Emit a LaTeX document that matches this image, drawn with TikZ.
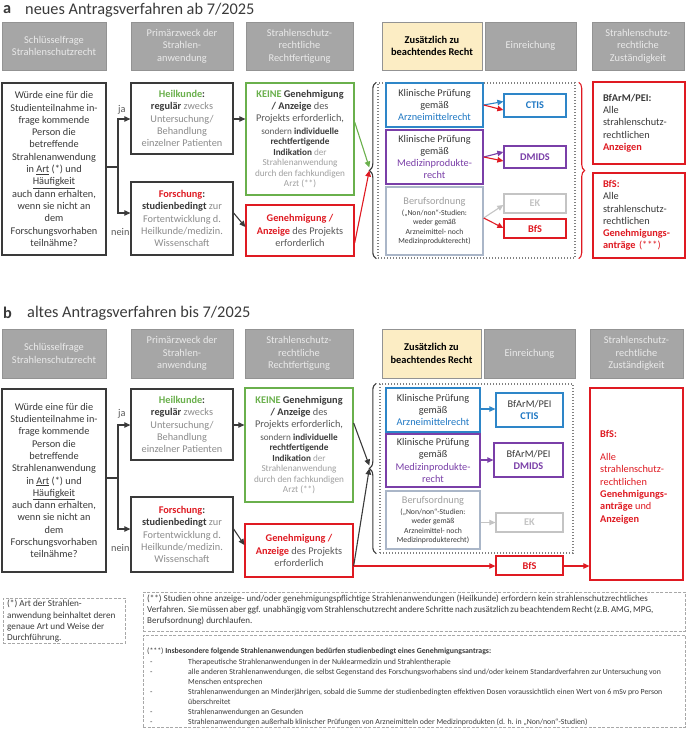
\documentclass[tikz,border=0pt]{standalone}
\usepackage{fontspec}
\setmainfont{Carlito}
\usetikzlibrary{arrows.meta,decorations.pathreplacing}

\definecolor{txt}{HTML}{3A3A3A}
\definecolor{dtxt}{HTML}{595959}
\definecolor{gtxt}{HTML}{8C8C8C}
\definecolor{lgt}{HTML}{A0A0A0}
\definecolor{hdrfill}{HTML}{A6A6A6}
\definecolor{hdrline}{HTML}{939393}
\definecolor{hdrtext}{HTML}{EAEAEA}
\definecolor{ylw}{HTML}{FCEDC4}
\definecolor{grn}{HTML}{6AB04C}
\definecolor{rd}{HTML}{DF1A22}
\definecolor{bl}{HTML}{2E86C8}
\definecolor{blt}{HTML}{1F78C4}
\definecolor{pur}{HTML}{7A3FA8}
\definecolor{bgray}{HTML}{AAB6C8}
\definecolor{lgray}{HTML}{C4C4C4}
\definecolor{dots}{HTML}{808080}
\definecolor{fnline}{HTML}{A8A8A8}

\newcommand\fsz[2]{\fontsize{#1}{#2}\selectfont}
% box from corner (x1,y1) to (x2,y2), y counted downwards
\newcommand\bx[7]{\node[#1, minimum width={(#5)-(#3)}, minimum height={(#6)-(#4)}] (#2) at ({((#3)+(#5))/2},{((#4)+(#6))/2}) {#7};}
\newcommand\fnitem{\hspace*{3pt}\makebox[38pt][l]{-}}
\newcommand\fncont{\hspace*{41pt}}
\newcommand\smallline[1]{{\fsz{9.2}{10.7}#1}}
\newcommand\tinyline[1]{{\fsz{7.7}{9.5}#1}}
\newsavebox\firstnote

\begin{document}
\begin{tikzpicture}[x=1pt,y=-1pt,
  hdrbox/.style={draw=hdrline, fill=hdrfill, text=hdrtext, line width=0.8pt, align=center, inner sep=0pt, font=\fsz{10.4}{12.5}},
  ylwbox/.style={hdrbox, fill=ylw, text=black},
  edgebox/.style={draw=#1, line width=1.3pt, fill=white, align=center, inner sep=0pt, text=txt, font=\fsz{10.3}{12.3}},
  tagbox/.style={edgebox=#1, font=\fsz{10.3}{12}\bfseries},
  dotbox/.style={draw=dots, line width=1.4pt, dash pattern=on 1.4pt off 1.6pt},
  fnbox/.style={draw=fnline, line width=0.8pt, dash pattern=on 3pt off 1.5pt, inner sep=0pt, anchor=north west},
  fntext/.style={anchor=north west, inner sep=0pt, align=left, text=txt},
  link/.style={line width=1.1pt, -{Triangle[length=6pt,width=5.5pt]}},
  curly/.style={decorate, decoration={brace, amplitude=7pt}, line width=1.1pt},
  sidetag/.style={font=\fsz{10.3}{12}, text=dtxt, inner sep=0pt, anchor=west},
  headline/.style={font=\fsz{16.3}{19}, text=txt, inner sep=0pt, anchor=west},
]
\useasboundingbox (0,0) rectangle (686,731);

%================ a: new procedure =================
\node[headline] (ttlAa) at (3,10) {\textbf{a}};
\node[headline] (ttlAt) at (25,10) {neues Antragsverfahren ab 7/2025};

\bx{hdrbox}{hA1}{2}{22}{106}{70}{Schlüsselfrage\\Strahlenschutzrecht}
\bx{hdrbox}{hA2}{131}{22}{233}{70}{Primärzweck der\\Strahlen-\\anwendung}
\bx{hdrbox}{hA3}{246}{22}{353}{70}{Strahlenschutz-\\rechtliche\\Rechtfertigung}
\bx{ylwbox}{hA4}{382}{22}{482}{70}{\textbf{Zusätzlich zu}\\\textbf{beachtendes Recht}}
\bx{hdrbox}{hA5}{485}{22}{576}{70}{Einreichung}
\bx{hdrbox}{hA6}{592}{22}{684}{70}{Strahlenschutz-\\rechtliche\\Zuständigkeit}

\bx{edgebox=txt}{qA}{2}{83}{106}{255}{Würde eine für die\\Studienteilnahme in-\\frage kommende\\Person die\\betreffende\\Strahlenanwendung\\in \underline{Art} (*) und\\\underline{Häufigkeit}\\auch dann erhalten,\\wenn sie nicht an\\dem\\Forschungsvorhaben\\teilnähme?}

\bx{edgebox=txt}{heilA}{131}{83}{233}{154}{\textcolor{grn}{\textbf{Heilkunde}}\textbf{:}\\\textbf{regulär} \textcolor{gtxt}{zwecks}\\\textcolor{gtxt}{Untersuchung/}\\\textcolor{gtxt}{Behandlung}\\\textcolor{gtxt}{einzelner Patienten}}
\bx{edgebox=txt}{forsA}{131}{182}{233}{255}{\textcolor{rd}{\textbf{Forschung}}\textbf{:}\\\textbf{studienbedingt} \textcolor{gtxt}{zur}\\\textcolor{gtxt}{Fortentwicklung d.}\\\textcolor{gtxt}{Heilkunde/medizin.}\\\textcolor{gtxt}{Wissenschaft}}

\bx{edgebox=grn}{keineA}{246}{83}{354}{195}{\textcolor{grn}{\textbf{KEINE}} \textbf{Genehmigung}\\\textbf{/ Anzeige} \textcolor{dtxt}{des}\\\textcolor{dtxt}{Projekts erforderlich,}\\\smallline{\textcolor{dtxt}{sondern} \textbf{individuelle}}\\[-1.8pt]\smallline{\textbf{rechtfertigende}}\\[-1.8pt]\smallline{\textbf{Indikation} \textcolor{lgt}{der}}\\[-1.8pt]\smallline{\textcolor{lgt}{Strahlenanwendung}}\\[-1.8pt]\smallline{\textcolor{lgt}{durch den fachkundigen}}\\[-1.8pt]\smallline{\textcolor{lgt}{Arzt (**)}}}
\bx{edgebox=rd}{redA}{246}{205}{354}{256}{\textcolor{rd}{\textbf{Genehmigung /}}\\\textcolor{rd}{\textbf{Anzeige}} \textcolor{dtxt}{des Projekts}\\\textcolor{dtxt}{erforderlich}}

\bx{dotbox}{zoneA}{378}{83}{575}{258}{}
\bx{edgebox=bl}{arzA}{386}{83}{483}{127}{Klinische Prüfung\\gemäß\\\textcolor{blt}{Arzneimittelrecht}}
\bx{edgebox=pur}{medA}{386}{130}{483}{184}{Klinische Prüfung\\gemäß\\\textcolor{pur}{Medizinprodukte-}\\\textcolor{pur}{recht}}
\bx{edgebox=bgray}{berA}{386}{187}{483}{255}{\textcolor{lgt}{Berufsordnung}\\[-1pt]\tinyline{(„Non/non“-Studien:}\\[-3pt]\tinyline{weder gemäß}\\[-3pt]\tinyline{Arzneimittel- noch}\\[-3pt]\tinyline{Medizinprodukterecht)}}

\bx{tagbox=bl}{ctisA}{504}{94}{566}{117}{\textcolor{blt}{CTIS}}
\bx{tagbox=pur}{dmidsA}{504}{146}{566}{168}{\textcolor{pur}{DMIDS}}
\bx{tagbox=lgray}{ekA}{504}{194}{566}{213}{\textcolor{lgray}{EK}}
\bx{tagbox=rd}{bfsA}{504}{219}{566}{238}{\textcolor{rd}{BfS}}

\bx{edgebox=rd, align=left, text width=72pt}{bfarmA}{593}{82}{685}{164}{\textbf{BfArM/PEI:}\\Alle\\strahlenschutz-\\rechtlichen\\\textcolor{rd}{\textbf{Anzeigen}}}
\bx{edgebox=rd, align=left, text width=72pt}{bfsbigA}{593}{173}{685}{258}{\textcolor{rd}{\textbf{BfS:}}\\Alle\\strahlenschutz-\\rechtlichen\\\textcolor{rd}{\textbf{Genehmigungs-}}\\\textcolor{rd}{\textbf{anträge} (***)}}

% connectors a
\coordinate (splitA) at (118,167);
\draw[link, txt] (qA.east |- splitA) -- (splitA) |- (heilA.west |- 0,119);
\draw[link, txt] (splitA) |- (forsA.west |- 0,213);
\node[sidetag] (jaA) at (118,110) {ja};
\node[sidetag] (neinA) at (111,232) {nein};
\draw[link, txt] (heilA.east |- 0,119) -- (keineA.west |- 0,119);
\draw[link, txt] (forsA.east |- 0,213) -- (redA.west |- 0,227);

\coordinate (tipA) at ([xshift=-8pt]zoneA.west);
\draw[curly, txt] ([xshift=-1pt]zoneA.south west) -- ([xshift=-1pt]zoneA.north west);
\draw[link, grn] (keineA.east |- 0,122) -- ([yshift=3pt]tipA);
\draw[link, rd] (redA.east |- 0,243) -- (tipA);
\draw[curly, rd, decoration={brace, amplitude=6pt}] ([xshift=3pt]zoneA.north east) -- ([xshift=3pt]zoneA.south east);

\draw[link, bl] (arzA.east |- 0,105) -- (ctisA.west |- 0,101.5);
\draw[link, rd] (arzA.east |- 0,105) -- (ctisA.west |- 0,110);
\draw[link, pur] (medA.east |- 0,157) -- (dmidsA.west |- 0,152);
\draw[link, rd] (medA.east |- 0,157) -- (dmidsA.west |- 0,161);
\draw[link, lgray] (berA.east |- 0,218) -- (ekA.west |- 0,205);
\draw[link, rd] (berA.east |- 0,218) -- (bfsA.west |- 0,228);

%================ b: old procedure =================
\node[headline] (ttlBb) at (3,313) {\textbf{b}};
\node[headline] (ttlBt) at (27,313) {altes Antragsverfahren bis 7/2025};

\bx{hdrbox}{hB1}{2}{329}{106}{378}{Schlüsselfrage\\Strahlenschutzrecht}
\bx{hdrbox}{hB2}{131}{329}{233}{378}{Primärzweck der\\Strahlen-\\anwendung}
\bx{hdrbox}{hB3}{245}{329}{353}{378}{Strahlenschutz-\\rechtliche\\Rechtfertigung}
\bx{ylwbox}{hB4}{382}{329}{481}{378}{\textbf{Zusätzlich zu}\\\textbf{beachtendes Recht}}
\bx{hdrbox}{hB5}{484}{329}{575}{378}{Einreichung}
\bx{hdrbox}{hB6}{590}{329}{683}{378}{Strahlenschutz-\\rechtliche\\Zuständigkeit}

\bx{edgebox=txt}{qB}{2}{389}{106}{572}{Würde eine für die\\Studienteilnahme in-\\frage kommende\\Person die\\betreffende\\Strahlenanwendung\\in \underline{Art} (*) und\\\underline{Häufigkeit}\\auch dann erhalten,\\wenn sie nicht an\\dem\\Forschungsvorhaben\\teilnähme?}

\bx{edgebox=txt}{heilB}{131}{389}{233}{460}{\textcolor{grn}{\textbf{Heilkunde}}\textbf{:}\\\textbf{regulär} \textcolor{gtxt}{zwecks}\\\textcolor{gtxt}{Untersuchung/}\\\textcolor{gtxt}{Behandlung}\\\textcolor{gtxt}{einzelner Patienten}}
\bx{edgebox=txt}{forsB}{131}{497}{233}{572}{\textcolor{rd}{\textbf{Forschung}}\textbf{:}\\\textbf{studienbedingt} \textcolor{gtxt}{zur}\\\textcolor{gtxt}{Fortentwicklung d.}\\\textcolor{gtxt}{Heilkunde/medizin.}\\\textcolor{gtxt}{Wissenschaft}}

\bx{edgebox=grn}{keineB}{245}{388}{353}{502}{\textcolor{grn}{\textbf{KEINE}} \textbf{Genehmigung}\\\textbf{/ Anzeige} \textcolor{dtxt}{des}\\\textcolor{dtxt}{Projekts erforderlich,}\\\smallline{\textcolor{dtxt}{sondern} \textbf{individuelle}}\\[-1.8pt]\smallline{\textbf{rechtfertigende}}\\[-1.8pt]\smallline{\textbf{Indikation} \textcolor{lgt}{der}}\\[-1.8pt]\smallline{\textcolor{lgt}{Strahlenanwendung}}\\[-1.8pt]\smallline{\textcolor{lgt}{durch den fachkundigen}}\\[-1.8pt]\smallline{\textcolor{lgt}{Arzt (**)}}}
\bx{edgebox=rd}{redB}{245}{524}{353}{577}{\textcolor{rd}{\textbf{Genehmigung /}}\\\textcolor{rd}{\textbf{Anzeige}} \textcolor{dtxt}{des Projekts}\\\textcolor{dtxt}{erforderlich}}

\bx{dotbox}{zoneB}{380}{384}{573}{553}{}
\bx{edgebox=bl}{arzB}{386}{388}{480}{432}{Klinische Prüfung\\gemäß\\\textcolor{blt}{Arzneimittelrecht}}
\bx{edgebox=pur}{medB}{386}{434}{480}{487}{Klinische Prüfung\\gemäß\\\textcolor{pur}{Medizinprodukte-}\\\textcolor{pur}{recht}}
\bx{edgebox=bgray}{berB}{386}{491}{480}{549}{\textcolor{lgt}{Berufsordnung}\\[-1pt]\tinyline{(„Non/non“-Studien:}\\[-3pt]\tinyline{weder gemäß}\\[-3pt]\tinyline{Arzneimittel- noch}\\[-3pt]\tinyline{Medizinprodukterecht)}}

\bx{edgebox=bl}{ctisB}{496}{393}{563}{427}{BfArM/PEI\\\textcolor{blt}{\textbf{CTIS}}}
\bx{edgebox=pur}{dmidsB}{494}{443}{563}{477}{BfArM/PEI\\\textcolor{pur}{\textbf{DMIDS}}}
\bx{tagbox=lgray}{ekB}{496}{513}{563}{532}{\textcolor{lgray}{EK}}
\bx{tagbox=rd}{bfsB}{496}{556}{563}{575}{\textcolor{rd}{BfS}}

\bx{edgebox=rd}{bfsbigB}{590}{388}{683}{580}{}
\node[anchor=north west, inner sep=0pt, align=left, text=rd, font=\fsz{10.3}{12.3}] (bfsbigBtext) at (600,430) {\textbf{BfS:}\\[11pt]Alle\\strahlenschutz-\\rechtlichen\\\textbf{Genehmigungs-}\\\textbf{anträge} und\\\textbf{Anzeigen}};

% connectors b
\coordinate (splitB) at (118,478);
\draw[link, txt] (qB.east |- splitB) -- (splitB) |- (heilB.west |- 0,425);
\draw[link, txt] (splitB) |- (forsB.west |- 0,529);
\node[sidetag] (jaB) at (118,414) {ja};
\node[sidetag] (neinB) at (111,548) {nein};
\draw[link, txt] (heilB.east |- 0,425) -- (keineB.west |- 0,425);
\draw[link, txt] (forsB.east |- 0,529) -- (redB.west |- 0,545);

\coordinate (tipB) at ([xshift=-10pt]zoneB.west);
\draw[curly, txt] ([xshift=-3pt]zoneB.south west) -- ([xshift=-3pt]zoneB.north west);
\draw[link, txt] (keineB.east |- 0,423) -- ([yshift=3pt]tipB);
\draw[link, txt] (redB.east |- 0,566) -- (tipB);

\draw[link, bl] (arzB.east |- 0,409) -- (ctisB.west |- 0,409);
\draw[link, pur] (medB.east |- 0,460) -- (dmidsB.west |- 0,460);
\draw[link, lgray] (berB.east |- 0,522.5) -- (ekB.west |- 0,522.5);
\draw[link, rd] (redB.east |- 0,566) -- (bfsB.west |- 0,566);
\draw[link, rd] (bfsB.east |- 0,566) -- (bfsbigB.west |- 0,566);

%================ notes =================
\node[fnbox, minimum width=122, minimum height=45] (fnAbox) at (3,598) {};
\node[fntext, font=\fsz{9.2}{11.3}] (fnAtext) at (7,600) {(*) Art der Strahlen-\\anwendung beinhaltet deren\\genaue Art und Weise der\\Durchführung.};

\node[fnbox, minimum width=542, minimum height=39] (fnBbox) at (143,592) {};
\node[fntext, font=\fsz{9}{11}] (fnBtext) at (147,595) {\sbox\firstnote{(**) Studien ohne anzeige- und/oder genehmigungspflichtige Strahlenanwendungen (Heilkunde) erfordern kein strahlenschutzrechtliches}\usebox\firstnote\\\makebox[\wd\firstnote][s]{Verfahren. Sie müssen aber ggf. unabhängig vom Strahlenschutzrecht andere Schritte nach zusätzlich zu beachtendem Recht (z.B. AMG, MPG,}\\Berufsordnung) durchlaufen.};

\node[fnbox, minimum width=542, minimum height=92] (fnCbox) at (143,635) {};
\node[fntext, font=\fsz{7.8}{10}] (fnCtext) at (147,648) {(***) \textbf{Insbesondere folgende Strahlenanwendungen bedürfen studienbedingt eines Genehmigungsantrags:}\\[1pt]
\fnitem Therapeutische Strahlenanwendungen in der Nuklearmedizin und Strahlentherapie\\
\fnitem alle anderen Strahlenanwendungen, die selbst Gegenstand des Forschungsvorhabens sind und/oder keinem Standardverfahren zur Untersuchung von\\
\fncont Menschen entsprechen\\
\fnitem Strahlenanwendungen an Minderjährigen, sobald die Summe der studienbedingten effektiven Dosen voraussichtlich einen Wert von 6 mSv pro Person\\
\fncont überschreitet\\
\fnitem Strahlenanwendungen an Gesunden\\
\fnitem Strahlenanwendungen außerhalb klinischer Prüfungen von Arzneimitteln oder Medizinprodukten (d. h. in „Non/non“-Studien)};
\end{tikzpicture}
\end{document}
